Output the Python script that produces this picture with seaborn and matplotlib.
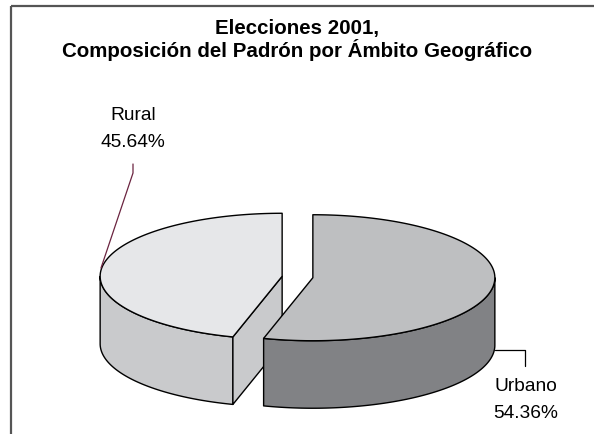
import numpy as np
import matplotlib
matplotlib.use("Agg")
import matplotlib.pyplot as plt
from matplotlib.patches import Polygon, Rectangle
import seaborn as sns

# ---- data ----
categories = ["Rural", "Urbano"]
shares = [45.64, 54.36]
label_texts = ["Rural\n45.64%", "Urbano\n54.36%"]
title_text = "Elecciones 2001,\nComposición del Padrón por Ámbito Geográfico"

sns.set_theme(style="white")
plt.rcParams['font.family'] = ['Liberation Sans', 'DejaVu Sans']
plt.rcParams['text.color'] = 'black'

W, H = 594, 434
fig = plt.figure(figsize=(W / 100, H / 100), dpi=100)
ax = fig.add_axes([0, 0, 1, 1])
ax.set_xlim(0, W)
ax.set_ylim(H, 0)
ax.axis("off")

# ---- geometry (style) ----
CX, CY = 297.5, 277.0
RX, RY = 182.0, 63.0
DEPTH = 67.5
EXPLODE = 15.5
top_colors = {"Rural": "#e6e7e9", "Urbano": "#bebfc1"}
side_colors = {"Rural": "#c9cacc", "Urbano": "#818285"}

def pt(c, th):
    t = np.deg2rad(th)
    return np.array([c[0] + RX * np.cos(t), c[1] - RY * np.sin(t)])

def arc(c, a1, a2, n=200):
    th = np.linspace(a1, a2, n)
    t = np.deg2rad(th)
    return np.column_stack([c[0] + RX * np.cos(t), c[1] - RY * np.sin(t)])

# slice angles: Urbano clockwise from 12 o'clock, Rural the rest
total = sum(shares)
u = shares[categories.index("Urbano")] / total * 360
r = shares[categories.index("Rural")] / total * 360
spans = {
    "Urbano": (90 - u, 90),
    "Rural": (90, 90 + r),
}

def center_for(name):
    a1, a2 = spans[name]
    mid = np.deg2rad((a1 + a2) / 2)
    return np.array([CX + EXPLODE * np.cos(mid), CY - EXPLODE * np.sin(mid) * RY / RX])

kw = dict(edgecolor="black", linewidth=1.0, joinstyle="round")
d = np.array([0, DEPTH])

# Rural
c = center_for("Rural")
a1, a2 = spans["Rural"]
top = arc(c, 180, a2)
wall = np.vstack([top, (top + d)[::-1]])
ax.add_patch(Polygon(wall, closed=True, facecolor=side_colors["Rural"], **kw))
e = pt(c, a2)
ax.add_patch(Polygon([c, e, e + d, c + d], closed=True, facecolor=side_colors["Rural"], **kw))
ax.add_patch(Polygon(np.vstack([c, arc(c, a1, a2)]), closed=True, facecolor=top_colors["Rural"], **kw))

# Urbano
c = center_for("Urbano")
a1, a2 = spans["Urbano"]
top = arc(c, a1, 0)
wall = np.vstack([top, (top + d)[::-1]])
ax.add_patch(Polygon(wall, closed=True, facecolor=side_colors["Urbano"], **kw))
ax.add_patch(Polygon(np.vstack([c, arc(c, a1, a2)]), closed=True, facecolor=top_colors["Urbano"], **kw))

# leader lines and labels
ax.plot([101, 133, 133], [268, 173, 164], color="#6b2440", lw=0.9)
ax.plot([495, 525, 525], [350, 350, 366], color="black", lw=0.9)
ax.text(133, 129, label_texts[0], ha="center", va="center", fontsize=13.8,
        linespacing=1.78)
ax.text(526, 400, label_texts[1], ha="center", va="center", fontsize=13.8,
        linespacing=1.7)

# title
ax.text(297, 40, title_text, ha="center", va="center", fontsize=14.8,
        fontweight="bold", linespacing=1.1)

# frame
ax.add_patch(Rectangle((10.5, 5.5), 700, 600, fill=False, edgecolor="#555555", lw=1.6))

fig.savefig("out.png", dpi=100)
